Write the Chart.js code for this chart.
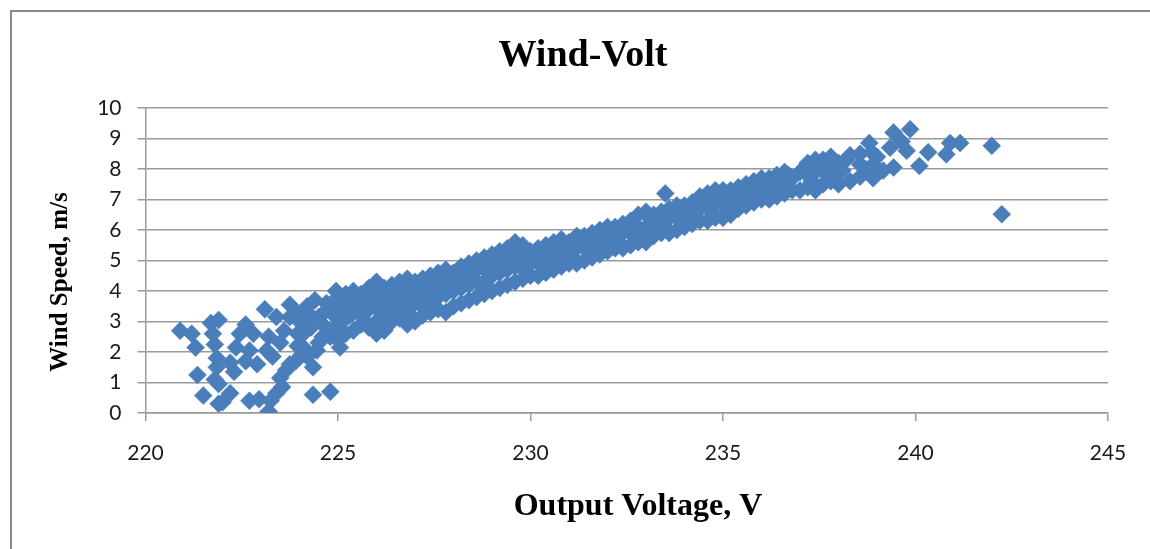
<!DOCTYPE html>
<html>
<head>
<meta charset="utf-8">
<title>Wind-Volt</title>
<script src="https://cdn.jsdelivr.net/npm/chart.js@4.4.1/dist/chart.umd.min.js"></script>
<style>
  html, body { margin: 0; padding: 0; background: #fff; }
  canvas { display: block; }
</style>
</head>
<body>
<canvas id="windVolt" width="1150" height="549"></canvas>
<script>
// Low-voltage readings (scattered, light wind)
const lowVolt = [
  220.9, 221.2, 221.3, 221.35, 221.5, 221.9, 222.0, 222.2, 221.7, 221.9,
  221.75, 221.8, 221.85, 221.85, 221.8, 221.9, 222.3, 222.2, 222.35, 222.6,
  222.7, 222.95, 223.2, 223.25, 223.4, 223.55, 223.5, 223.65, 223.75, 223.9,
  224.35, 224.8, 223.1, 222.6, 222.45, 222.8, 222.7, 222.9, 223.15, 223.3,
  223.2, 223.5, 223.6, 223.75, 223.4, 223.75, 223.95, 224.1, 224.2, 224.35,
  224.45, 224.6, 224.5, 224.8, 224.95, 225.05, 224.25, 224.0, 224.3, 224.6,
  224.7, 224.9, 224.4, 224.65, 224.1, 223.9, 224.8, 224.5, 224.9, 224.2,
  223.95, 224.05
];
const lowSpeed = [
  2.7, 2.6, 2.15, 1.25, 0.57, 0.3, 0.35, 0.65, 2.95, 3.05,
  2.6, 2.25, 1.8, 1.5, 1.1, 0.95, 1.35, 1.65, 2.15, 1.7,
  0.4, 0.45, 0.05, 0.4, 0.65, 0.85, 1.15, 1.4, 1.6, 1.7,
  0.6, 0.7, 3.4, 2.9, 2.6, 2.6, 2.05, 1.6, 2.05, 1.85,
  2.5, 2.3, 2.7, 3.15, 3.15, 3.55, 2.6, 2.15, 1.85, 1.5,
  2.05, 2.5, 3.15, 3.45, 4.0, 2.15, 3.25, 3.0, 2.8, 2.9,
  3.6, 3.2, 3.7, 3.3, 2.6, 3.3, 2.5, 2.3, 2.7, 3.5,
  2.2, 1.9
];

// Main operating band
const bandVolt = [
  225.0, 225.0, 225.0, 225.0, 225.2, 225.2, 225.2, 225.2, 225.4, 225.4, 225.4, 225.4,
  225.6, 225.6, 225.6, 225.6, 225.8, 225.8, 225.8, 225.8, 226.0, 226.0, 226.0, 226.0, 226.0,
  226.2, 226.2, 226.2, 226.2, 226.4, 226.4, 226.4, 226.4, 226.6, 226.6, 226.6, 226.6,
  226.8, 226.8, 226.8, 226.8, 226.8, 227.0, 227.0, 227.0, 227.0, 227.2, 227.2, 227.2, 227.2,
  227.4, 227.4, 227.4, 227.4, 227.6, 227.6, 227.6, 227.6, 227.8, 227.8, 227.8, 227.8,
  228.0, 228.0, 228.0, 228.0, 228.2, 228.2, 228.2, 228.2, 228.4, 228.4, 228.4, 228.4,
  228.6, 228.6, 228.6, 228.6, 228.8, 228.8, 228.8, 228.8, 229.0, 229.0, 229.0, 229.0,
  229.2, 229.2, 229.2, 229.2, 229.4, 229.4, 229.4, 229.4, 229.6, 229.6, 229.6, 229.6,
  229.8, 229.8, 229.8, 229.8, 230.0, 230.0, 230.0, 230.2, 230.2, 230.2, 230.4, 230.4, 230.4,
  230.6, 230.6, 230.6, 230.8, 230.8, 230.8, 231.0, 231.0, 231.0, 231.2, 231.2, 231.2,
  231.4, 231.4, 231.4, 231.6, 231.6, 231.6, 231.8, 231.8, 231.8, 232.0, 232.0, 232.0,
  232.2, 232.2, 232.2, 232.4, 232.4, 232.4, 232.6, 232.6, 232.6, 232.8, 232.8, 232.8,
  233.0, 233.0, 233.0, 233.2, 233.2, 233.2, 233.4, 233.4, 233.4, 233.5,
  233.6, 233.6, 233.6, 233.8, 233.8, 233.8, 234.0, 234.0, 234.0, 234.2, 234.2, 234.2,
  234.4, 234.4, 234.4, 234.6, 234.6, 234.6, 234.8, 234.8, 234.8, 235.0, 235.0, 235.0,
  235.2, 235.2, 235.2, 235.4, 235.4, 235.4, 235.6, 235.6, 235.6, 235.8, 235.8, 235.8,
  236.0, 236.0, 236.0, 236.2, 236.2, 236.2, 236.4, 236.4, 236.4, 236.6, 236.6, 236.6,
  236.8, 236.8, 237.0, 237.0, 237.2, 237.2, 237.2, 237.4, 237.4, 237.4,
  237.6, 237.6, 237.6, 237.8, 237.8, 237.8, 238.0, 238.0, 238.0,
  225.3, 225.7, 226.1, 226.5, 226.9, 227.3, 227.7, 228.1, 228.5, 228.9, 229.3,
  225.5, 225.9, 226.3, 226.7, 227.1, 227.5, 227.9, 228.3, 228.7, 229.1,
  229.9, 229.9, 230.3, 230.3, 230.7, 230.7, 231.1, 231.1, 231.5, 231.5,
  231.9, 231.9, 232.3, 232.3, 232.7, 232.7, 233.1, 233.1, 233.5, 233.5,
  233.9, 233.9, 234.3, 234.3, 234.7, 234.7, 235.1, 235.1, 235.5, 235.5,
  235.9, 235.9, 236.3, 236.3, 236.7, 236.7, 237.3, 237.3, 237.7, 237.7
];
const bandSpeed = [
  2.4, 2.9, 3.4, 3.8, 2.6, 3.1, 3.5, 3.9, 2.7, 3.3, 3.7, 4.0,
  2.9, 3.2, 3.6, 3.9, 2.8, 3.4, 3.8, 4.1, 2.6, 3.0, 3.5, 3.9, 4.3,
  2.7, 3.2, 3.6, 4.1, 3.0, 3.4, 3.8, 4.2, 3.1, 3.5, 3.9, 4.3,
  2.9, 3.3, 3.7, 4.1, 4.4, 3.0, 3.6, 4.0, 4.3, 3.2, 3.5, 3.9, 4.4,
  3.3, 3.7, 4.1, 4.5, 3.4, 3.8, 4.2, 4.6, 3.3, 3.9, 4.3, 4.7,
  3.5, 4.0, 4.4, 4.6, 3.6, 4.1, 4.5, 4.8, 3.7, 4.2, 4.6, 4.9,
  3.8, 4.3, 4.7, 5.0, 3.9, 4.3, 4.8, 5.1, 4.0, 4.5, 4.9, 5.2,
  4.1, 4.6, 5.0, 5.3, 4.2, 4.7, 5.1, 5.4, 4.3, 4.8, 5.2, 5.6,
  4.4, 4.9, 5.3, 5.5, 4.5, 4.9, 5.3, 4.5, 5.0, 5.4, 4.6, 5.1, 5.5,
  4.7, 5.2, 5.6, 4.8, 5.2, 5.7, 4.9, 5.3, 5.6, 4.9, 5.4, 5.8,
  5.0, 5.5, 5.8, 5.1, 5.5, 5.9, 5.2, 5.6, 6.0, 5.3, 5.7, 6.1,
  5.4, 5.8, 6.1, 5.4, 5.9, 6.2, 5.5, 5.9, 6.3, 5.6, 6.0, 6.5,
  5.6, 6.1, 6.6, 5.8, 6.2, 6.5, 5.9, 6.3, 6.6, 7.2,
  5.9, 6.4, 6.7, 6.0, 6.4, 6.8, 6.1, 6.5, 6.8, 6.2, 6.6, 6.9,
  6.3, 6.7, 7.1, 6.3, 6.8, 7.2, 6.4, 6.9, 7.3, 6.4, 6.9, 7.3,
  6.5, 7.0, 7.3, 6.7, 7.1, 7.4, 6.8, 7.2, 7.5, 6.9, 7.3, 7.6,
  7.0, 7.4, 7.7, 7.0, 7.4, 7.7, 7.1, 7.5, 7.8, 7.2, 7.6, 7.9,
  7.3, 7.7, 7.3, 7.9, 7.4, 7.8, 8.2, 7.3, 7.9, 8.3,
  7.5, 8.0, 8.3, 7.6, 8.1, 8.4, 7.5, 7.9, 8.2,
  3.2, 3.0, 3.3, 3.6, 3.5, 3.8, 4.0, 4.2, 4.4, 4.6, 4.8,
  3.5, 3.6, 3.9, 3.7, 4.2, 3.9, 4.1, 4.3, 4.2, 4.7,
  4.6, 5.1, 4.8, 5.3, 4.9, 5.4, 5.1, 5.6, 5.3, 5.7,
  5.4, 5.8, 5.6, 6.0, 5.8, 6.2, 5.9, 6.4, 6.1, 6.5,
  6.3, 6.6, 6.4, 6.9, 6.6, 7.0, 6.7, 7.1, 6.9, 7.3,
  7.1, 7.5, 7.2, 7.6, 7.4, 7.8, 7.6, 8.0, 7.8, 8.2
];

// High-voltage readings (strong wind)
const highVolt = [
  238.3, 238.56, 238.8, 238.86, 238.56, 238.9, 239.43, 239.16, 238.9, 238.56,
  238.3, 238.1, 238.2, 239.43, 239.86, 239.64, 239.34, 239.77, 240.33, 240.1,
  240.9, 241.16, 240.8, 241.98, 242.24, 238.7, 239.0
];
const highSpeed = [
  8.45, 8.5, 8.85, 8.55, 8.15, 8.15, 8.05, 7.95, 7.7, 7.75,
  7.6, 7.95, 8.3, 9.2, 9.3, 8.9, 8.7, 8.6, 8.55, 8.1,
  8.85, 8.85, 8.48, 8.76, 6.52, 8.0, 8.4
];

const xTicks = [220, 225, 230, 235, 240, 245];
const yTicks = [0, 1, 2, 3, 4, 5, 6, 7, 8, 9, 10];

const voltage = lowVolt.concat(bandVolt, highVolt);
const windSpeed = lowSpeed.concat(bandSpeed, highSpeed);
const points = voltage.map((v, i) => ({ x: v, y: windSpeed[i] }));

const GRID = '#9a9a9a';
const SERIF = '"Liberation Serif", "Times New Roman", serif';

// outer frame plus the chart/axis titles
const chartDecor = {
  id: 'chartDecor',
  beforeDraw(chart) {
    const ctx = chart.ctx;
    ctx.save();
    ctx.strokeStyle = '#8a8a8a';
    ctx.lineWidth = 2;
    ctx.beginPath();
    ctx.moveTo(11, chart.height);
    ctx.lineTo(11, 11);
    ctx.lineTo(chart.width, 11);
    ctx.stroke();
    ctx.restore();
  },
  afterDraw(chart) {
    const ctx = chart.ctx;
    ctx.save();
    ctx.fillStyle = '#000';
    ctx.textAlign = 'center';
    ctx.textBaseline = 'middle';

    ctx.font = 'bold 38px ' + SERIF;
    ctx.fillText('Wind-Volt', 583, 56);

    ctx.font = 'bold 32px ' + SERIF;
    ctx.fillText('Output Voltage, V', 638, 507);

    ctx.font = 'bold 25px ' + SERIF;
    ctx.translate(61, 282);
    ctx.rotate(-Math.PI / 2);
    ctx.fillText('Wind Speed, m/s', 0, 0);
    ctx.restore();
  }
};

new Chart(document.getElementById('windVolt'), {
  type: 'scatter',
  data: {
    datasets: [{
      label: 'Wind-Volt',
      data: points,
      pointStyle: 'rectRot',
      pointRadius: 9,
      pointHoverRadius: 9,
      backgroundColor: '#4a7ebb',
      borderColor: '#4a7ebb',
      borderWidth: 0.5
    }]
  },
  options: {
    responsive: false,
    animation: false,
    devicePixelRatio: 1,
    layout: { padding: { top: 108, right: 42, left: 0, bottom: 0 } },
    plugins: {
      legend: { display: false },
      tooltip: { enabled: false },
      title: { display: false }
    },
    scales: {
      x: {
        type: 'linear',
        min: xTicks[0],
        max: xTicks[xTicks.length - 1],
        afterFit: (scale) => { scale.height = 136; },
        afterBuildTicks: (scale) => { scale.ticks = xTicks.map(v => ({ value: v })); },
        grid: { drawOnChartArea: false, drawTicks: true, tickLength: 8, color: GRID, lineWidth: 1.5 },
        border: { display: true, color: GRID, width: 1.5 },
        ticks: { color: '#1a1a1a', padding: 20, font: { family: 'Lato', size: 21 } }
      },
      y: {
        type: 'linear',
        min: yTicks[0],
        max: yTicks[yTicks.length - 1],
        afterFit: (scale) => { scale.width = 145.5; },
        afterBuildTicks: (scale) => { scale.ticks = yTicks.map(v => ({ value: v })); },
        grid: { drawTicks: true, tickLength: 8, color: GRID, lineWidth: 1.5 },
        border: { display: true, color: GRID, width: 1.5 },
        ticks: { color: '#1a1a1a', padding: 16, font: { family: 'Lato', size: 21 } }
      }
    }
  },
  plugins: [chartDecor]
});
</script>
</body>
</html>
